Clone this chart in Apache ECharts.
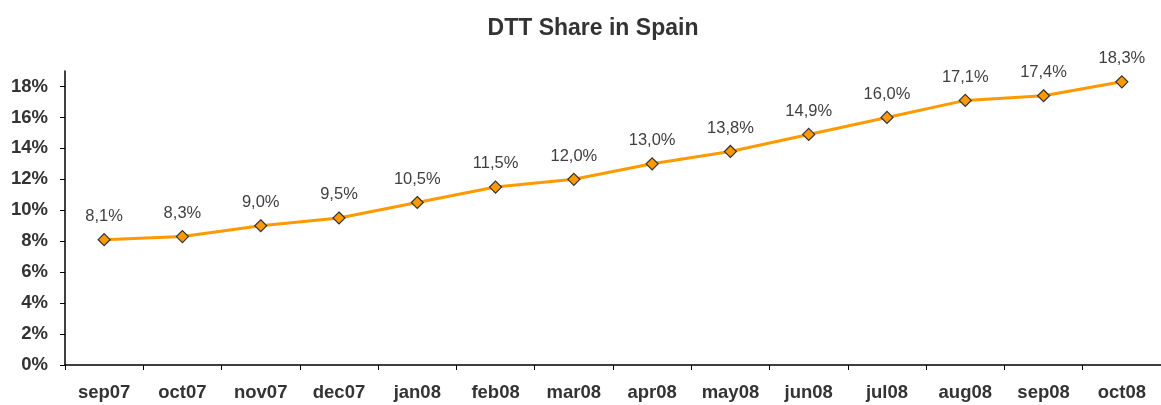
<!DOCTYPE html>
<html><head><meta charset="utf-8">
<script src="https://cdn.jsdelivr.net/npm/echarts@6/dist/echarts.min.js"></script>
<style>html,body{margin:0;padding:0;background:#fff}#c{width:1161px;height:405px}</style>
</head><body><div id="c"></div>
<script>
const categories = ['sep07','oct07','nov07','dec07','jan08','feb08','mar08','apr08','may08','jun08','jul08','aug08','sep08','oct08'];
const shareValues = [8.1, 8.3, 9.0, 9.5, 10.5, 11.5, 12.0, 13.0, 13.8, 14.9, 16.0, 17.1, 17.4, 18.3];
const yTicks = [0, 2, 4, 6, 8, 10, 12, 14, 16, 18];
const titleText = 'DTT Share in Spain';

const chart = echarts.init(document.getElementById('c'));
const font = 'Liberation Sans, Arial, sans-serif';
chart.setOption({
  animation: false,
  title: { text: titleText, left: 588, top: 12, textAlign: 'center',
    textStyle: { fontFamily: font, fontSize: 23, fontWeight: 'bold', color: '#333' } },
  grid: { left: 65, right: -4, top: 71, bottom: 40, containLabel: false },
  xAxis: { type: 'category', data: categories, boundaryGap: true,
    axisLine: { lineStyle: { color: '#000', width: 1.5 } },
    axisTick: { show: true, length: 5, lineStyle: { color: '#000' } },
    axisLabel: { fontFamily: font, fontSize: 18.5, fontWeight: 'bold', color: '#333', margin: 18 },
    splitLine: { show: false } },
  yAxis: { type: 'value', min: 0, max: 19, interval: 2,
    axisLine: { show: true, lineStyle: { color: '#000', width: 1.5 } },
    axisTick: { show: true, length: 5, inside: false, customValues: yTicks, lineStyle: { color: '#000' } },
    axisLabel: { customValues: yTicks, fontFamily: font, fontSize: 18.5, fontWeight: 'bold', color: '#333', margin: 17,
      formatter: v => v + '%' },
    splitLine: { show: false } },
  series: [{ type: 'line', data: shareValues, smooth: false,
    lineStyle: { color: '#FF9900', width: 3 },
    symbol: 'diamond', symbolSize: 12,
    itemStyle: { color: '#FF9900', borderColor: '#333', borderWidth: 1.2 },
    label: { show: true, position: 'top', distance: 8, fontFamily: font, fontSize: 16.5, color: '#404040',
      formatter: p => p.value.toFixed(1).replace('.', ',') + '%' } }]
});
</script></body></html>
